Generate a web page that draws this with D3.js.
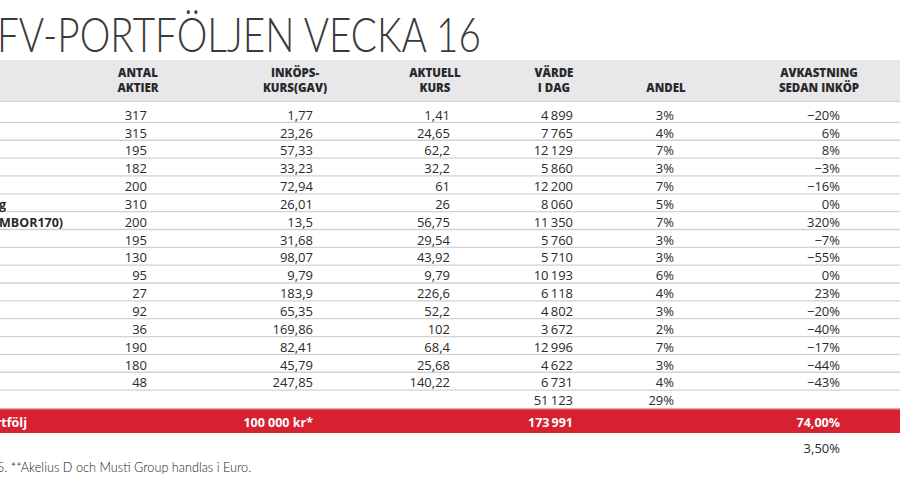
<!DOCTYPE html>
<html><head><meta charset="utf-8">
<script src="https://cdn.jsdelivr.net/npm/d3@7"></script>
<style>
html,body{margin:0;padding:0;background:#fff;overflow:hidden;}
svg{display:block;}
</style></head>
<body>
<script>
const title = "FV-PORTFÖLJEN VECKA 16";
const headers = [
  ["ANTAL","AKTIER"],
  ["INKÖPS-","KURS(GAV)"],
  ["AKTUELL","KURS"],
  ["VÄRDE","I DAG"],
  ["","ANDEL"],
  ["AVKASTNING","SEDAN INKÖP"]
];
const names = ["","","","","","g","MBOR170)","","","","","","","","",""];
const antal = [317,315,195,182,200,310,200,195,130,95,27,92,36,190,180,48];
const inkop = [1.77,23.26,57.33,33.23,72.94,26.01,13.5,31.68,98.07,9.79,183.9,65.35,169.86,82.41,45.79,247.85];
const aktuell = [1.41,24.65,62.2,32.2,61,26,56.75,29.54,43.92,9.79,226.6,52.2,102,68.4,25.68,140.22];
const varde = [4899,7765,12129,5860,12200,8060,11350,5760,5710,10193,6118,4802,3672,12996,4622,6731];
const andel = [3,4,7,3,7,5,7,3,3,6,4,3,2,7,3,4];
const avkastning = [-20,6,8,-3,-16,0,320,-7,-55,0,23,-20,-40,-17,-44,-43];
const subtotalVarde = 51123;
const subtotalAndel = 29;
const totalLabel = "portfölj";
const totalInkop = "100 000 kr*";
const totalVarde = 173991;
const totalAvk = 74.00;
const extraAvk = 3.50;
const footnote = "5. **Akelius D och Musti Group handlas i Euro.";

const W = 900, H = 493;
const svg = d3.select("body").append("svg").attr("width", W).attr("height", H);

const locale = d3.formatLocale({decimal: ",", thousands: "\u2009", grouping: [3], currency: ["", " kr"], minus: "\u2212"});
const fInt = locale.format(",d");
const fPct = v => locale.format("d")(v) + "%";
const fPct2 = v => locale.format(".2f")(v) + "%";
const fDec = v => String(v).replace(".", ",");

const colKeys = ["antal","inkop","aktuell","varde","andel","avk"];
const xRight = d3.scaleOrdinal().domain(colKeys).range([147, 313, 450, 573, 674, 840]);
const xCenter = d3.scaleOrdinal().domain(colKeys).range([138, 295, 435, 554, 666, 819]);

const y = d3.scaleLinear().domain([0, 15]).range([115, 382.7]);

// title (left edge cropped as in the reference)
svg.append("text").attr("x", -3).attr("y", 52)
  .attr("font-family", "Lato").attr("font-weight", 300).attr("font-size", 48)
  .attr("fill", "#3a3a3a").attr("textLength", 484).attr("lengthAdjust", "spacingAndGlyphs")
  .text(title);

// header band
svg.append("rect").attr("x", 0).attr("y", 60).attr("width", W).attr("height", 41.5).attr("fill", "#e8e8ea");
svg.append("line").attr("x1", 0).attr("x2", W).attr("y1", 101.5).attr("y2", 101.5).attr("stroke", "#cfcfd2").attr("stroke-width", 1.2);

const hdr = svg.append("g").attr("font-family", "Open Sans").attr("font-weight", 800)
  .attr("font-size", 11.5).attr("fill", "#2a2a2a").attr("text-anchor", "middle");
headers.forEach((h, i) => {
  const cx = xCenter(colKeys[i]);
  h.forEach((line, j) => {
    if (!line) return;
    hdr.append("text").attr("x", cx).attr("y", 77 + j * 15.3).text(line);
  });
});

// row separators
const idx = d3.range(16);
svg.append("g").selectAll("line").data(idx).join("line")
  .attr("x1", 0).attr("x2", W)
  .attr("y1", d => y(d) + 7.4).attr("y2", d => y(d) + 7.4)
  .attr("stroke", "#d2d2d4").attr("stroke-width", 1.3);

const body = svg.append("g").attr("font-family", "Open Sans").attr("font-size", 13)
  .attr("fill", "#2a2a2a").attr("text-anchor", "end");
const cols = [
  ["antal", antal, fInt],
  ["inkop", inkop, fDec],
  ["aktuell", aktuell, fDec],
  ["varde", varde, fInt],
  ["andel", andel, fPct],
  ["avk", avkastning, fPct]
];
cols.forEach(([k, arr, fmt]) => {
  body.append("g").selectAll("text").data(arr).join("text")
    .attr("x", xRight(k)).attr("y", (d, i) => y(i) + 4.7).text(d => fmt(d));
});

// names (cropped at left edge)
svg.append("g").attr("font-family", "Open Sans").attr("font-weight", 700).attr("font-size", 12.5)
  .attr("fill", "#2a2a2a").selectAll("text").data(names).join("text")
  .attr("x", -1).attr("y", (d, i) => y(i) + 4.7).text(d => d);

// subtotal row
const ySub = y(16) - 0.5;
body.append("text").attr("x", xRight("varde")).attr("y", ySub + 4.7).text(fInt(subtotalVarde));
body.append("text").attr("x", xRight("andel")).attr("y", ySub + 4.7).text(fPct(subtotalAndel));

// red total band
svg.append("line").attr("x1", 0).attr("x2", W).attr("y1", 408.6).attr("y2", 408.6).attr("stroke", "#eba4a8").attr("stroke-width", 1.2);
svg.append("rect").attr("x", 0).attr("y", 409.3).attr("width", W).attr("height", 23.7).attr("fill", "#d52130");
const tot = svg.append("g").attr("font-family", "Open Sans").attr("font-weight", 700).attr("font-size", 12.5)
  .attr("fill", "#fff");
const yTot = 426.5;
tot.append("text").attr("x", 27).attr("y", yTot).attr("text-anchor", "end").text(totalLabel);
tot.append("text").attr("x", xRight("inkop")).attr("y", yTot).attr("text-anchor", "end").text(totalInkop);
tot.append("text").attr("x", xRight("varde")).attr("y", yTot).attr("text-anchor", "end").text(fInt(totalVarde));
tot.append("text").attr("x", xRight("avk")).attr("y", yTot).attr("text-anchor", "end").text(fPct2(totalAvk));

body.append("text").attr("x", xRight("avk")).attr("y", 453).text(fPct2(extraAvk));

// footnote
svg.append("text").attr("x", -3).attr("y", 472)
  .attr("font-family", "Lato").attr("font-weight", 300).attr("font-size", 12.7)
  .attr("fill", "#222").text(footnote);
</script>
</body></html>
